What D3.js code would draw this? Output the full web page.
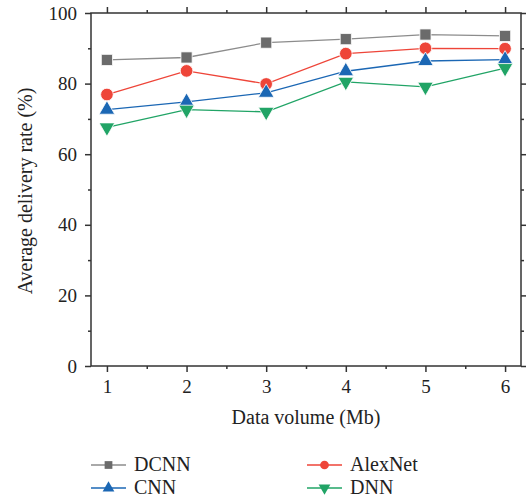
<!DOCTYPE html>
<html lang="en">
<head>
<meta charset="UTF-8">
<title>Average delivery rate</title>
<script src="https://cdn.jsdelivr.net/npm/d3@7"></script>
<style>
    body { margin: 0; background: #fff; }
    text { font-family: "Liberation Serif", "Times New Roman", serif; fill: #222; }
</style>
</head>
<body>
<script>
    // data
    var volumes = [1, 2, 3, 4, 5, 6];
    var dcnn    = [86.7, 87.4, 91.6, 92.6, 93.9, 93.5];
    var alexnet = [76.9, 83.6, 79.9, 88.5, 90.0, 89.9];
    var cnn     = [72.6, 74.8, 77.4, 83.5, 86.4, 86.8];
    var dnn     = [67.6, 72.6, 72.0, 80.5, 79.1, 84.4];
    var yTicks  = [0, 20, 40, 60, 80, 100];

    var series = [
        {name: "DCNN", values: dcnn, color: "#6b6b6b", line: "#8c8c8c", symbol: d3.symbolSquare},
        {name: "AlexNet", values: alexnet, color: "#ee4539", line: "#ee4539", symbol: d3.symbolCircle},
        {name: "CNN", values: cnn, color: "#1b67b4", line: "#1b67b4", symbol: d3.symbolTriangle},
        {name: "DNN", values: dnn, color: "#21a466", line: "#21a466", symbol: "down"}
    ];

    var w = 526, h = 500;
    var serif = "'Liberation Serif', 'Times New Roman', serif";
    // plot box (window.top is reserved, so own names)
    var pLeft = 91, pRight = 521, pTop = 13, pBottom = 366;

    var svg = d3.select("body").append("svg")
        .attr("width", w)
        .attr("height", h)
        .attr("font-family", serif);

    var x = d3.scaleLinear().domain([0.8, 6.2]).range([pLeft, pRight]);
    var y = d3.scaleLinear().domain([0, 100]).range([pBottom, pTop]);

    var axisColor = "#333";

    // axes: major + minor ticks
    function drawAxis(g, axis) {
        g.call(axis);
        g.attr("font-family", serif);
        g.select(".domain").remove();
        g.selectAll(".tick line").attr("stroke", axisColor).attr("stroke-width", 1.5);
        g.selectAll("text").attr("font-size", "19px").attr("fill", "#222");
    }

    var minorX = [1.5, 2.5, 3.5, 4.5, 5.5];
    var minorY = [10, 30, 50, 70, 90];

    var xMajor = svg.append("g").attr("transform", "translate(0," + pBottom + ")");
    drawAxis(xMajor, d3.axisBottom(x).tickValues(volumes).tickFormat(d3.format("d")).tickSize(6).tickPadding(8));
    var xMinor = svg.append("g").attr("transform", "translate(0," + pBottom + ")");
    drawAxis(xMinor, d3.axisBottom(x).tickValues(minorX).tickFormat("").tickSize(3));
    var xTop = svg.append("g").attr("transform", "translate(0," + pTop + ")");
    drawAxis(xTop, d3.axisTop(x).tickValues(volumes).tickFormat("").tickSize(6));
    var xTopMinor = svg.append("g").attr("transform", "translate(0," + pTop + ")");
    drawAxis(xTopMinor, d3.axisTop(x).tickValues(minorX).tickFormat("").tickSize(3));

    var yMajor = svg.append("g").attr("transform", "translate(" + pLeft + ",0)");
    drawAxis(yMajor, d3.axisLeft(y).tickValues(yTicks).tickFormat(d3.format("d")).tickSize(6).tickPadding(8));
    var yMinor = svg.append("g").attr("transform", "translate(" + pLeft + ",0)");
    drawAxis(yMinor, d3.axisLeft(y).tickValues(minorY).tickFormat("").tickSize(3));
    var yRight = svg.append("g").attr("transform", "translate(" + pRight + ",0)");
    drawAxis(yRight, d3.axisRight(y).tickValues(yTicks).tickFormat("").tickSize(6));
    var yRightMinor = svg.append("g").attr("transform", "translate(" + pRight + ",0)");
    drawAxis(yRightMinor, d3.axisRight(y).tickValues(minorY).tickFormat("").tickSize(3));

    // frame
    svg.append("rect")
        .attr("x", pLeft).attr("y", pTop)
        .attr("width", pRight - pLeft).attr("height", pBottom - pTop)
        .attr("fill", "none")
        .attr("stroke", axisColor)
        .attr("stroke-width", 1.5);

    // axis titles
    svg.append("text")
        .attr("x", (pLeft + pRight) / 2)
        .attr("y", 424)
        .attr("text-anchor", "middle")
        .attr("font-size", "20px")
        .text("Data volume (Mb)");

    svg.append("text")
        .attr("transform", "translate(32,191) rotate(-90)")
        .attr("text-anchor", "middle")
        .attr("font-size", "20px")
        .text("Average delivery rate (%)");

    function symbolPath(s, size) {
        var t = s === "down" ? d3.symbolTriangle : s;
        return d3.symbol().type(t).size(size)();
    }

    var line = d3.line()
        .x(function(d, i) { return x(volumes[i]); })
        .y(function(d) { return y(d); });

    var sizes = {"DCNN": 125, "AlexNet": 125, "CNN": 105, "DNN": 105};

    series.forEach(function(s) {
        svg.append("path")
            .datum(s.values)
            .attr("d", line)
            .attr("fill", "none")
            .attr("stroke", s.line)
            .attr("stroke-width", 1.3);
    });

    series.forEach(function(s) {
        svg.selectAll(null)
            .data(s.values)
            .enter()
            .append("path")
            .attr("d", symbolPath(s.symbol, sizes[s.name]))
            .attr("transform", function(d, i) {
                var t = "translate(" + x(volumes[i]) + "," + y(d) + ")";
                return s.symbol === "down" ? t + " rotate(180)" : t;
            })
            .attr("fill", s.color)
            .attr("stroke", "#fff")
            .attr("stroke-width", 0.8);
    });

    // legend, two columns
    var legendPos = [[91, 465], [307, 465], [91, 488], [307, 488]];
    var order = ["DCNN", "AlexNet", "CNN", "DNN"];
    order.forEach(function(name, k) {
        var s = series.filter(function(d) { return d.name === name; })[0];
        var p = legendPos[k];
        var g = svg.append("g").attr("transform", "translate(" + p[0] + "," + p[1] + ")");
        g.append("line")
            .attr("x1", 0).attr("x2", 35)
            .attr("stroke", s.line)
            .attr("stroke-width", 1.3);
        g.append("path")
            .attr("d", symbolPath(s.symbol, 60))
            .attr("transform", "translate(17.5,0)" + (s.symbol === "down" ? " rotate(180)" : ""))
            .attr("fill", s.color);
        g.append("text")
            .attr("x", 43)
            .attr("y", 6)
            .attr("font-size", "20px")
            .text(name);
    });
</script>
</body>
</html>
